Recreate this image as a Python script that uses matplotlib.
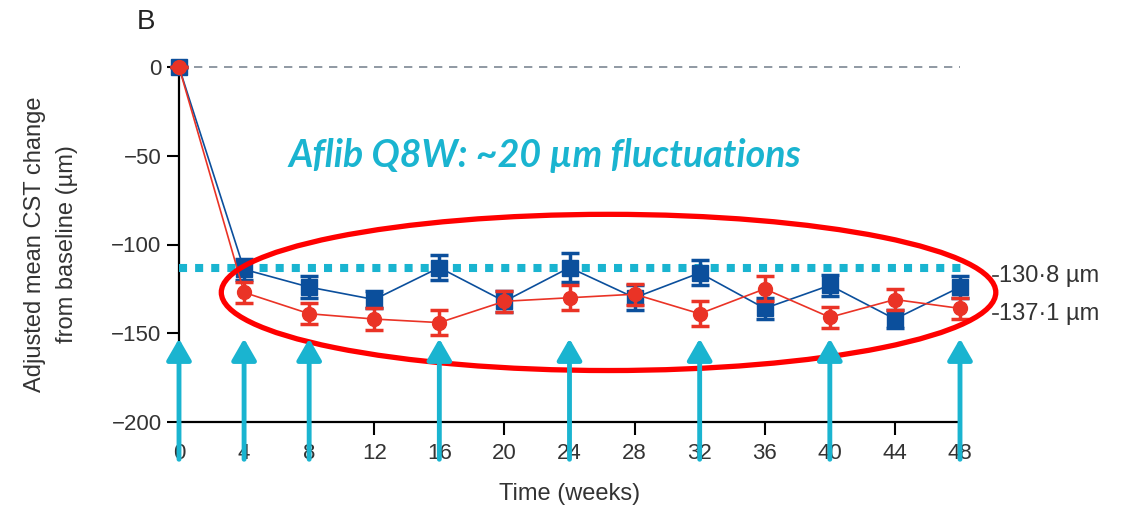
import matplotlib
matplotlib.use("Agg")
import matplotlib.pyplot as plt
from matplotlib.patches import Ellipse

plt.rcParams['font.family'] = ['Liberation Sans Narrow', 'Liberation Sans', 'DejaVu Sans']

# data
weeks = [0, 4, 8, 12, 16, 20, 24, 28, 32, 36, 40, 44, 48]
blue_vals = [0, -114, -124, -131, -113, -132, -113, -130, -116, -136, -123, -142, -124]
blue_err = [0, 6, 6, 5, 7, 6, 8, 7, 7, 6, 6, 5, 6]
red_vals = [0, -127, -139, -142, -144, -132, -130, -128, -139, -125, -141, -131, -136]
red_err = [0, 6, 6, 6, 7, 6, 7, 6, 7, 7, 6, 6, 6]
arrow_weeks = [0, 4, 8, 16, 24, 32, 40, 48]
ref_level = -113
end_labels = ["130·8 µm", "137·1 µm"]
end_label_y = [-118, -139]

blue_c = '#0b4f9c'
red_c = '#ea3326'
cyan_c = '#1ab4d0'

fig = plt.figure(figsize=(11.27, 5.08), dpi=100)
ax = fig.add_axes([179/1127, 86/508, (960-179)/1127, 355/508])

# grey dashed baseline
ax.plot([0, 48], [0, 0], ls=(0, (5, 4)), color='#7d8893', lw=1.2, zorder=1, clip_on=False)

# fluctuation reference level
ax.plot([0, 48.2], [ref_level, ref_level], ls=(0, (1, 1)), color=cyan_c, lw=5.8, zorder=2.5, clip_on=False)

eb1 = ax.errorbar(weeks, blue_vals, yerr=blue_err, fmt='-s', color=blue_c, ms=11, lw=1.2,
                  elinewidth=2.5, capsize=6.5, capthick=2.5, zorder=3)
eb2 = ax.errorbar(weeks, red_vals, yerr=red_err, fmt='-o', color=red_c, ms=10, lw=1.2,
                  elinewidth=2.5, capsize=6.5, capthick=2.5, zorder=4)
for eb in (eb1, eb2):
    for a in eb.get_children():
        a.set_clip_on(False)

# big red ellipse
ax.add_patch(Ellipse((26.4, -127), 47.6, 88, fill=False, ec='#ff0000', lw=3.8, zorder=6, clip_on=False))

# arrows
for w in arrow_weeks:
    ax.annotate('', xy=(w, -153), xytext=(w, -221), annotation_clip=False,
                arrowprops=dict(arrowstyle='-|>,head_length=1.3,head_width=0.75', color=cyan_c,
                                lw=3.5, shrinkA=0, shrinkB=0, mutation_scale=10), zorder=7)

ax.text(22.5, -50, 'Aflib Q8W: ~20 µm fluctuations', color=cyan_c, fontsize=27,
        family=['Lato', 'DejaVu Sans'], fontweight='bold', style='italic', ha='center', va='center')

for lab, yv in zip(end_labels, end_label_y):
    ax.plot([50.0, 50.35], [yv, yv], color='#333333', lw=1.2, clip_on=False)
    ax.text(50.4, yv, lab, fontsize=17, color='#333333', ha='left', va='center')

ax.set_xlim(0, 48)
ax.set_ylim(-200, 0)
ax.set_xticks(weeks)
ax.set_yticks([0, -50, -100, -150, -200])
ax.set_yticklabels(['0', '−50', '−100', '−150', '−200'])
ax.tick_params(axis='both', labelsize=16, labelcolor='#333333', length=9, width=1.5)
ax.tick_params(axis='x', pad=6)
for s in ['top', 'right']:
    ax.spines[s].set_visible(False)
for s in ['left', 'bottom']:
    ax.spines[s].set_linewidth(1.6)
    ax.spines[s].set_zorder(2)

ax.set_xlabel('Time (weeks)', fontsize=17, color='#333333', labelpad=14)
ax.set_ylabel('Adjusted mean CST change\nfrom baseline (µm)', fontsize=17, color='#333333',
              labelpad=24, linespacing=1.6)

fig.text(137/1127, 1 - 22/508, 'B', fontsize=20, color='#222222', va='center', ha='left')

fig.savefig('out.png', dpi=100)
